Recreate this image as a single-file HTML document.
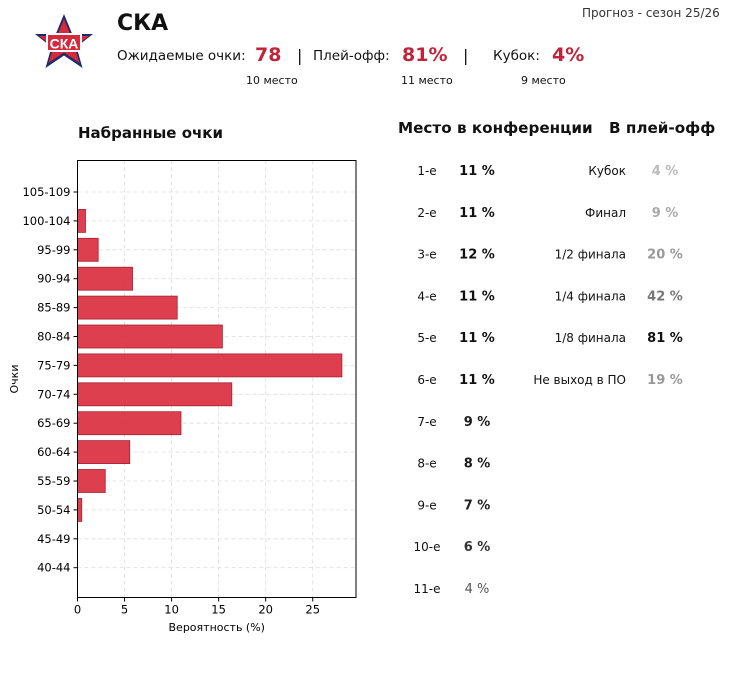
<!DOCTYPE html>
<html><head><meta charset="utf-8"><style>
body{margin:0;background:#fff;font-family:"DejaVu Sans","Liberation Sans",sans-serif;}
#root{position:relative;width:730px;height:678px;overflow:hidden;background:#fff}
.t{position:absolute;white-space:nowrap;color:#111}
</style></head><body>
<div id="root">
<svg style="position:absolute;left:0;top:0" width="130" height="80">
<polygon fill="#1f2a6b" points="64,14 72.2,34 93,34 76.5,47 82.5,68 64,55.5 45.5,68 51.5,47 35,34 55.8,34"/>
<polygon fill="#d42a3b" points="64,19 71,36 89,36 74.5,47 79.5,63 64,52.5 48.5,63 53.5,47 39,36 57,36"/>
<rect x="46" y="33" width="36" height="19" rx="2" fill="#fff"/>
<rect x="48" y="35" width="32" height="15" fill="#d42a3b"/>
<text x="64" y="48.5" text-anchor="middle" font-family="Liberation Sans" font-weight="bold" font-size="14" fill="#fff">СКА</text>
</svg>
<div class="t" style="left:117px;top:11px;font-size:22px;font-weight:bold">СКА</div>
<div class="t" style="left:582px;top:6px;font-size:12px;color:#333">Прогноз - сезон 25/26</div>
<div class="t" style="left:117px;top:48px;font-size:13.5px">Ожидаемые очки:</div>
<div class="t" style="left:255px;top:44px;font-size:19px;font-weight:bold;color:#c0243a">78</div>
<div class="t" style="left:297px;top:46px;font-size:16px">|</div>
<div class="t" style="left:313px;top:48px;font-size:13.5px">Плей-офф:</div>
<div class="t" style="left:402px;top:44px;font-size:19px;font-weight:bold;color:#c0243a">81%</div>
<div class="t" style="left:463px;top:46px;font-size:16px">|</div>
<div class="t" style="left:493px;top:48px;font-size:13.5px">Кубок:</div>
<div class="t" style="left:552px;top:44px;font-size:19px;font-weight:bold;color:#c0243a">4%</div>
<div class="t" style="left:246px;top:74px;font-size:11px">10 место</div>
<div class="t" style="left:401px;top:74px;font-size:11px">11 место</div>
<div class="t" style="left:521px;top:74px;font-size:11px">9 место</div>
<div class="t" style="left:78px;top:124px;font-size:15px;font-weight:bold">Набранные очки</div>
<div class="t" style="left:398px;top:119px;font-size:15.2px;font-weight:bold">Место в конференции</div>
<div class="t" style="left:609px;top:119px;font-size:15.2px;font-weight:bold">В плей-офф</div>
<svg id="chart" style="position:absolute;left:0;top:0" width="730" height="678"></svg>
</div>
<script>
const categories=["105-109","100-104","95-99","90-94","85-89","80-84","75-79","70-74","65-69","60-64","55-59","50-54","45-49","40-44"];
const probabilities=[0,0.85,2.2,5.85,10.6,15.4,28.1,16.4,11.0,5.55,2.95,0.45,0,0];
const xTicks=[0,5,10,15,20,25];
const placeLabels=["1-е","2-е","3-е","4-е","5-е","6-е","7-е","8-е","9-е","10-е","11-е"];
const placeValues=[11,11,12,11,11,11,9,8,7,6,4];
const stageLabels=["Кубок","Финал","1/2 финала","1/4 финала","1/8 финала","Не выход в ПО"];
const stageValues=[4,9,20,42,81,19];

const NS="http://www.w3.org/2000/svg";
const svg=document.getElementById('chart');
const L=77.5,R=356,T=160.5,B=597.5,XMAX=29.6;
const x=v=>L+v*(R-L)/XMAX;
const y=i=>192+i*28.9;
function mk(tag,attrs){const e=document.createElementNS(NS,tag);for(const k in attrs)e.setAttribute(k,attrs[k]);svg.appendChild(e);return e;}
xTicks.forEach(t=>{
  const g=mk('line',{x1:x(t),x2:x(t),y1:T,y2:B,stroke:'#ddd','stroke-dasharray':'4,3','stroke-width':0.8});
  
  
  const tk=mk('line',{x1:x(t),x2:x(t),y1:B,y2:B+4,stroke:'#000'});
  
  
  const tx=mk('text',{x:x(t),y:B+16,'text-anchor':'middle','font-size':11.5,'font-family':'DejaVu Sans, sans-serif'});
  tx.textContent=t;
  
  
});
categories.forEach((c,i)=>{
  const g=mk('line',{x1:L,x2:R,y1:y(i),y2:y(i),stroke:'#ddd','stroke-dasharray':'4,3','stroke-width':0.8});
  
  
  const tk=mk('line',{x1:L-4,x2:L,y1:y(i),y2:y(i),stroke:'#000'});
  
  
  const tx=mk('text',{x:L-7,y:y(i)+4,'text-anchor':'end','font-size':11.5,'font-family':'DejaVu Sans, sans-serif'});
  tx.textContent=c;
  
  
  if(probabilities[i]>0){
    const b=mk('rect',{x:L,y:y(i)-11.5,width:x(probabilities[i])-L,height:23,fill:'#dc3545',stroke:'#a0182a','stroke-width':0.8,opacity:0.95});
    
    
  }
});
const fr=mk('rect',{x:L,y:T,width:R-L,height:B-T,fill:'none',stroke:'#000','stroke-width':1});


const xl=mk('text',{x:(L+R)/2,y:631,'text-anchor':'middle','font-size':11,'font-family':'DejaVu Sans, sans-serif'});
xl.textContent='Вероятность (%)';


const yl=mk('text',{x:18,y:379,'text-anchor':'middle','font-size':11,'font-family':'DejaVu Sans, sans-serif',transform:'rotate(-90 18 379)'});
yl.textContent='Очки';



function gray(v){return v>=10?'#111':v>=8?'#1a1a1a':v>=7?'#222':v>=6?'#333':'#555';}
placeLabels.forEach((p,i)=>{
  const yy=175+i*41.8;
  const a=mk('text',{x:427,y:yy,'text-anchor':'middle','font-size':12,'font-family':'DejaVu Sans, sans-serif',fill:'#111'});
  a.textContent=p;
  
  
  const v=mk('text',{x:477,y:yy,'text-anchor':'middle','font-size':13,'font-weight':placeValues[i]>4?'bold':'normal','font-family':'DejaVu Sans, sans-serif',fill:gray(placeValues[i])});
  v.textContent=placeValues[i]+' %';
  
  
});
const stageColors=v=>v>=60?'#111':v>=40?'#777':v>=15?'#999':v>=8?'#aaa':'#bbb';
stageLabels.forEach((s,i)=>{
  const yy=175+i*41.8;
  const a=mk('text',{x:626,y:yy,'text-anchor':'end','font-size':12,'font-family':'DejaVu Sans, sans-serif',fill:'#111'});
  a.textContent=s;
  
  
  const v=mk('text',{x:665,y:yy,'text-anchor':'middle','font-size':13,'font-weight':'bold','font-family':'DejaVu Sans, sans-serif',fill:stageColors(stageValues[i])});
  v.textContent=stageValues[i]+' %';
  
  
});
</script>
</body></html>
